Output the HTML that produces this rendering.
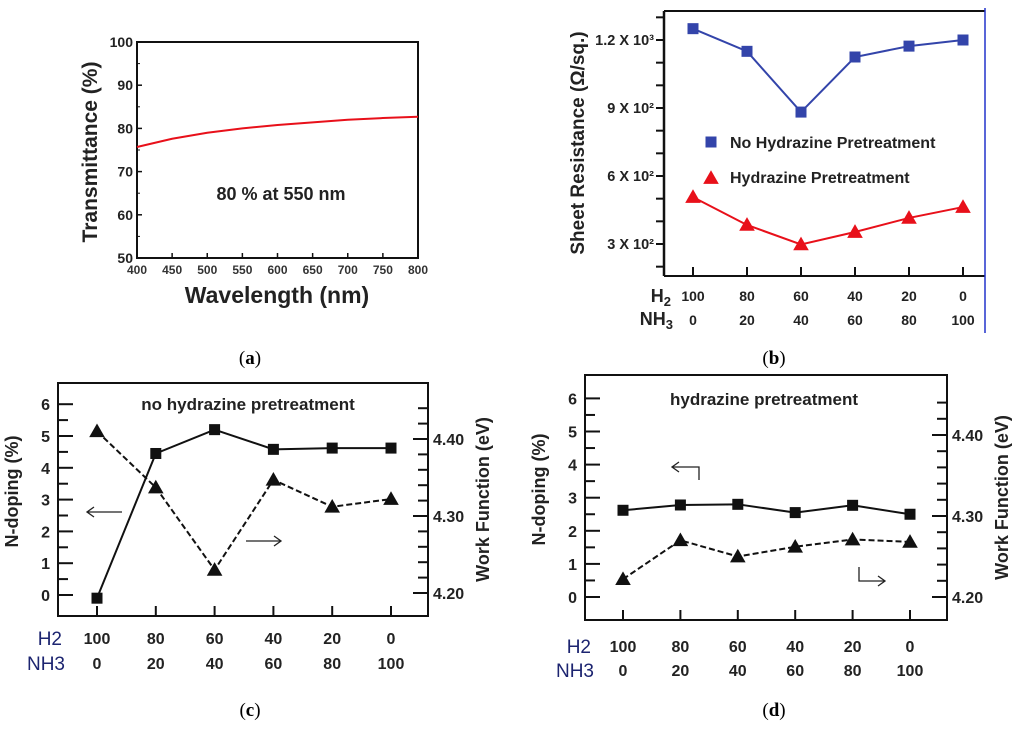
<!DOCTYPE html>
<html><head><meta charset="utf-8"><style>
html,body{margin:0;padding:0;background:#fff;}
svg{display:block;font-family:"Liberation Sans",Arial,sans-serif;}
.b{font-weight:bold;}
.cap{font-family:"Liberation Serif",serif;font-size:19px;}
</style></head><body>
<svg id="fig" width="1024" height="731" viewBox="0 0 1024 731" xmlns="http://www.w3.org/2000/svg">
<g id="pa"></g>
<g id="pb"></g>
<g id="pc"></g>
<g id="pd"></g>
</svg>
<script>
// Panel (a) data
const aWavelength = [400, 450, 500, 550, 600, 650, 700, 750, 800];
const aTrans = [75.7, 77.6, 79.0, 80.0, 80.8, 81.4, 82.0, 82.4, 82.7];
const aXTicks = [400, 450, 500, 550, 600, 650, 700, 750, 800];
const aYTicks = [50, 60, 70, 80, 90, 100];
// Panel (b) data
const bH2 = ['100', '80', '60', '40', '20', '0'];
const bNH3 = ['0', '20', '40', '60', '80', '100'];
const bNoHydrazine = [1250, 1150, 882, 1125, 1173, 1200];
const bHydrazine = [507, 384, 298, 353, 415, 463];
const bYTicks = [300, 600, 900, 1200];
const bYTickLabels = ['3 X 10²', '6 X 10²', '9 X 10²', '1.2 X 10³'];
// Panel (c) data
const cDoping = [-0.1, 4.45, 5.2, 4.58, 4.62, 4.62];
const cWork = [4.410, 4.337, 4.230, 4.347, 4.312, 4.322];
// Panel (d) data
const dDoping = [2.62, 2.78, 2.8, 2.55, 2.77, 2.5];
const dWork = [4.222, 4.270, 4.250, 4.262, 4.271, 4.268];
const leftTicks = [0, 1, 2, 3, 4, 5, 6];
const rightTicks = ['4.20', '4.30', '4.40'];

const NS = 'http://www.w3.org/2000/svg';
function mk(parent, tag, attrs, text) {
  const e = document.createElementNS(NS, tag);
  for (const k in attrs) e.setAttribute(k, attrs[k]);
  if (text !== undefined) e.textContent = text;
  parent.appendChild(e);
  return e;
}
function sq(g, x, y, s, fill) { return mk(g, 'rect', {x: x - s / 2, y: y - s / 2, width: s, height: s, fill: fill}); }
function tri(g, x, y, s, fill) { return mk(g, 'polygon', {points: `${x},${y - s * 0.6} ${x - s * 0.6},${y + s * 0.45} ${x + s * 0.6},${y + s * 0.45}`, fill: fill}); }

// ---------- Panel A ----------
(function () {
  const g = document.getElementById('pa');
  const x = v => 137 + (v - 400) / 400 * 281;
  const y = v => 258 - (v - 50) / 50 * 216;
  const frame = mk(g, 'rect', {x: 137, y: 42, width: 281, height: 216, fill: 'none', stroke: '#111', 'stroke-width': 2});
  
  
  aYTicks.forEach(v => {
    mk(g, 'line', {x1: 137, x2: 142, y1: y(v), y2: y(v), stroke: '#111', 'stroke-width': 1.5});
    const t = mk(g, 'text', {x: 133, y: y(v) + 5, 'text-anchor': 'end', 'font-size': 14, class: 'b', fill: '#222'}, String(v));
    
    
  });
  for (let v = 55; v < 100; v += 10) mk(g, 'line', {x1: 137, x2: 140, y1: y(v), y2: y(v), stroke: '#111', 'stroke-width': 1});
  aXTicks.forEach(v => {
    mk(g, 'line', {x1: x(v), x2: x(v), y1: 258, y2: 253, stroke: '#111', 'stroke-width': 1.5});
    const t = mk(g, 'text', {x: x(v), y: 274, 'text-anchor': 'middle', 'font-size': 12, class: 'b', fill: '#333'}, String(v));
    
    
  });
  const d = aWavelength.map((w, i) => (i ? 'L' : 'M') + x(w) + ',' + y(aTrans[i])).join(' ');
  const line = mk(g, 'path', {d: d, fill: 'none', stroke: '#e8101a', 'stroke-width': 2});
  
  
  const ann = mk(g, 'text', {x: 281, y: 200, 'text-anchor': 'middle', 'font-size': 18, class: 'b', fill: '#222'}, '80 % at 550 nm');
  
  
  const yl = mk(g, 'text', {x: 0, y: 0, transform: 'translate(97,152) rotate(-90)', 'text-anchor': 'middle', 'font-size': 21, class: 'b', fill: '#222'}, 'Transmittance (%)');
  
  
  const xl = mk(g, 'text', {x: 277, y: 303, 'text-anchor': 'middle', 'font-size': 23, class: 'b', fill: '#222'}, 'Wavelength (nm)');
  
  
  const cap = mk(g, 'text', {x: 250, y: 364, 'text-anchor': 'middle', class: 'cap'});
  cap.innerHTML = '(<tspan font-weight="bold">a</tspan>)';
  
  
})();

// ---------- Panel B ----------
(function () {
  const g = document.getElementById('pb');
  const xs = [693, 748, 801, 855, 910, 963];
  const x = i => xs[0] + i * (xs[5] - xs[0]) / 5;
  const y = v => 244 - (v - 300) / 300 * 68;
  mk(g, 'line', {x1: 664, x2: 664, y1: 11, y2: 276, stroke: '#111', 'stroke-width': 2.5});
  mk(g, 'line', {x1: 664, x2: 985, y1: 11, y2: 11, stroke: '#111', 'stroke-width': 2});
  mk(g, 'line', {x1: 664, x2: 985, y1: 276, y2: 276, stroke: '#111', 'stroke-width': 2});
  const bl = mk(g, 'line', {x1: 985, x2: 985, y1: 8, y2: 333, stroke: '#2233cc', 'stroke-width': 1.5});
  
  
  for (let v = 200; v <= 1300; v += 100) {
    if (y(v) > 14 && y(v) < 274) mk(g, 'line', {x1: 656, x2: 664, y1: y(v), y2: y(v), stroke: '#111', 'stroke-width': 2});
  }
  bYTicks.forEach((v, i) => {
    const t = mk(g, 'text', {x: 654, y: y(v) + 5, 'text-anchor': 'end', 'font-size': 14.5, class: 'b', fill: '#222'}, bYTickLabels[i]);
    
    
  });
  bH2.forEach((lab, i) => {
    mk(g, 'line', {x1: x(i), x2: x(i), y1: 276, y2: 267, stroke: '#111', 'stroke-width': 2});
    const t1 = mk(g, 'text', {x: x(i), y: 301, 'text-anchor': 'middle', 'font-size': 14, class: 'b', fill: '#222'}, lab);
    
    
    const t2 = mk(g, 'text', {x: x(i), y: 325, 'text-anchor': 'middle', 'font-size': 14, class: 'b', fill: '#222'}, bNH3[i]);
    
    
  });
  const h = mk(g, 'text', {x: 671, y: 302, 'text-anchor': 'end', 'font-size': 18, class: 'b', fill: '#222'});
  h.innerHTML = 'H<tspan font-size="13" dy="4">2</tspan>';
  
  
  const n = mk(g, 'text', {x: 673, y: 325, 'text-anchor': 'end', 'font-size': 18, class: 'b', fill: '#222'});
  n.innerHTML = 'NH<tspan font-size="13" dy="4">3</tspan>';
  
  
  const blue = mk(g, 'path', {d: bNoHydrazine.map((v, i) => (i ? 'L' : 'M') + x(i) + ',' + y(v)).join(' '), fill: 'none', stroke: '#3344aa', 'stroke-width': 2});
  
  
  bNoHydrazine.forEach((v, i) => {
    const m = sq(g, x(i), y(v), 11, '#3344aa');
    
    
  });
  const red = mk(g, 'path', {d: bHydrazine.map((v, i) => (i ? 'L' : 'M') + x(i) + ',' + y(v)).join(' '), fill: 'none', stroke: '#e8101a', 'stroke-width': 2});
  
  
  bHydrazine.forEach((v, i) => {
    const m = tri(g, x(i), y(v), 13, '#e8101a');
    
    
  });
  const l1 = sq(g, 711, 142, 11, '#3344aa');
  
  
  const lt1 = mk(g, 'text', {x: 730, y: 148, 'font-size': 16, class: 'b', fill: '#222'}, 'No Hydrazine Pretreatment');
  
  
  const l2 = tri(g, 711, 178, 13, '#e8101a');
  
  
  const lt2 = mk(g, 'text', {x: 730, y: 183, 'font-size': 16, class: 'b', fill: '#222'}, 'Hydrazine Pretreatment');
  
  
  const yl = mk(g, 'text', {x: 0, y: 0, transform: 'translate(584,143) rotate(-90)', 'text-anchor': 'middle', 'font-size': 19, class: 'b', fill: '#222'}, 'Sheet Resistance (Ω/sq.)');
  
  
  const cap = mk(g, 'text', {x: 774, y: 364, 'text-anchor': 'middle', class: 'cap'});
  cap.innerHTML = '(<tspan font-weight="bold">b</tspan>)';
  
  
})();

// ---------- Panels C & D ----------
function dualPanel(g, o) {
  const x = i => o.x0 + i * (o.x5 - o.x0) / 5;
  const yl = v => o.y0 - v * o.lu;
  const yr = v => o.r20 - (v - 4.2) / 0.1 * o.ru;
  mk(g, 'rect', {x: o.L, y: o.T, width: o.R - o.L, height: o.B - o.T, fill: 'none', stroke: '#111', 'stroke-width': 2});
  for (let v = 0; v <= 6; v += 0.5) {
    const major = Number.isInteger(v);
    mk(g, 'line', {x1: o.L, x2: o.L + (major ? 15 : 10), y1: yl(v), y2: yl(v), stroke: '#111', 'stroke-width': 2});
  }
  leftTicks.forEach(v => {
    const t = mk(g, 'text', {x: o.L - 8, y: yl(v) + 6, 'text-anchor': 'end', 'font-size': 16, class: 'b', fill: '#222'}, String(v));
    
    
  });
  for (let v = 4.2; v <= 4.4401; v += 0.02) {
    const major = Math.abs((v * 100) % 10) < 0.01 || Math.abs((v * 100) % 10 - 10) < 0.01;
    mk(g, 'line', {x1: o.R - (major ? 15 : 10), x2: o.R, y1: yr(v), y2: yr(v), stroke: '#111', 'stroke-width': 2});
  }
  rightTicks.forEach(v => {
    const t = mk(g, 'text', {x: o.R + 5, y: yr(+v) + 6, 'font-size': 16, class: 'b', fill: '#222'}, v);
    
    
  });
  bH2.forEach((lab, i) => {
    mk(g, 'line', {x1: x(i), x2: x(i), y1: o.B, y2: o.B - 10, stroke: '#111', 'stroke-width': 2});
    const t1 = mk(g, 'text', {x: x(i), y: o.r1, 'text-anchor': 'middle', 'font-size': 16, class: 'b', fill: '#222'}, lab);
    
    
    const t2 = mk(g, 'text', {x: x(i), y: o.r2, 'text-anchor': 'middle', 'font-size': 16, class: 'b', fill: '#222'}, bNH3[i]);
    
    
  });
  const h = mk(g, 'text', {x: o.hx, y: o.r1 + 1, 'text-anchor': 'end', 'font-size': 19, fill: '#1c2470'}, 'H2');
  
  
  const n = mk(g, 'text', {x: o.hx + 3, y: o.r2 + 1, 'text-anchor': 'end', 'font-size': 19, fill: '#1c2470'}, 'NH3');
  
  
  const sl = mk(g, 'path', {d: o.dop.map((v, i) => (i ? 'L' : 'M') + x(i) + ',' + yl(v)).join(' '), fill: 'none', stroke: '#111', 'stroke-width': 2});
  
  
  const tl = mk(g, 'path', {d: o.wf.map((v, i) => (i ? 'L' : 'M') + x(i) + ',' + yr(v)).join(' '), fill: 'none', stroke: '#111', 'stroke-width': 2, 'stroke-dasharray': '6,3'});
  
  
  o.dop.forEach((v, i) => {
    const m = sq(g, x(i), yl(v), 11, '#111');
    
    
  });
  o.wf.forEach((v, i) => {
    const m = tri(g, x(i), yr(v), 13, '#111');
    
    
  });
  const title = mk(g, 'text', {x: o.tx, y: o.ty, 'text-anchor': 'middle', 'font-size': 17, class: 'b', fill: '#222'}, o.title);
  
  
  const ylab = mk(g, 'text', {x: 0, y: 0, transform: `translate(${o.L - 40},${(o.T + o.B) / 2 - 8}) rotate(-90)`, 'text-anchor': 'middle', 'font-size': 18, class: 'b', fill: '#222'}, 'N-doping (%)');
  
  
  const rlab = mk(g, 'text', {x: 0, y: 0, transform: `translate(${o.R + 61},${(o.T + o.B) / 2}) rotate(-90)`, 'text-anchor': 'middle', 'font-size': 18, class: 'b', fill: '#222'}, 'Work Function (eV)');
  
  
  const ar = mk(g, 'path', {d: o.arrows, fill: 'none', stroke: '#222', 'stroke-width': 1.3});
  
  
  const cap = mk(g, 'text', {x: o.cx, y: 716, 'text-anchor': 'middle', class: 'cap'});
  cap.innerHTML = '(<tspan font-weight="bold">' + o.cap + '</tspan>)';
  
  
}
dualPanel(document.getElementById('pc'), {
  L: 58, R: 428, T: 383, B: 616, x0: 97, x5: 391, y0: 595, lu: 31.8, r20: 593, ru: 77,
  dop: cDoping, wf: cWork, r1: 644, r2: 669, hx: 62, title: 'no hydrazine pretreatment', tx: 248, ty: 410,
  arrows: 'M122,512 L87,512 M94,507 L87,512 L94,517 M246,541 L281,541 M274,536 L281,541 L274,546', cx: 250, cap: 'c'
});
dualPanel(document.getElementById('pd'), {
  L: 585, R: 947, T: 375, B: 620, x0: 623, x5: 910, y0: 597, lu: 33.1, r20: 597, ru: 81,
  dop: dDoping, wf: dWork, r1: 652, r2: 676, hx: 591, title: 'hydrazine pretreatment', tx: 764, ty: 405,
  arrows: 'M699,480 L699,467 L672,467 M679,462 L672,467 L679,472 M859,567 L859,581 L885,581 M878,576 L885,581 L878,586', cx: 774, cap: 'd'
});
</script>
</body></html>
